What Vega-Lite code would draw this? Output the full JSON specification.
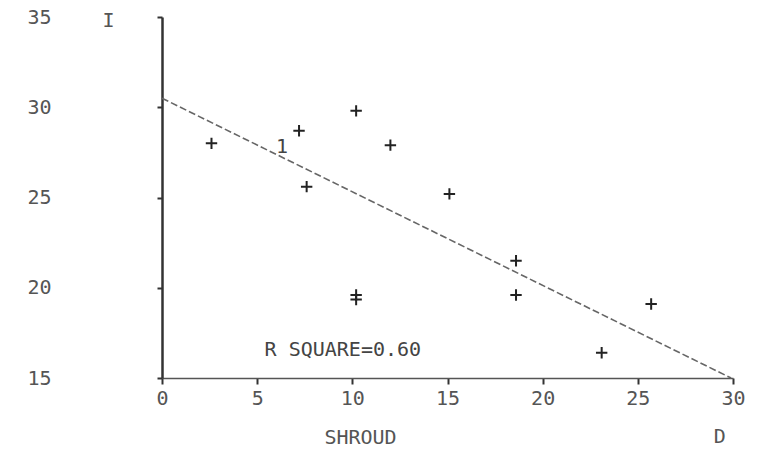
{
  "$schema": "https://vega.github.io/schema/vega-lite/v6.json",
  "width": 571,
  "height": 361,
  "autosize": "none",
  "padding": {"left": 162, "top": 17, "right": 26, "bottom": 72},
  "background": "white",
  "config": {
    "view": {"stroke": null},
    "font": "DejaVu Sans Mono",
    "axis": {"grid": false, "labelFont": "DejaVu Sans Mono", "titleFont": "DejaVu Sans Mono", "labelFontSize": 20, "titleFontSize": 20, "labelColor": "#555", "titleColor": "#555", "titleFontWeight": "normal", "domainColor": "#333", "tickColor": "#333"}
  },
  "layer": [
    {
      "data": {"values": [{"x": 0, "y": 30.5}, {"x": 29.9, "y": 15.0}]},
      "mark": {"type": "line", "color": "#666", "strokeWidth": 1.6, "strokeDash": [7, 3], "clip": false},
      "encoding": {
        "x": {"field": "x", "type": "quantitative", "scale": {"domain": [0, 30], "nice": false, "zero": false},
          "axis": {"values": [0, 5, 10, 15, 20, 25, 30], "title": "SHROUD", "titleX": 198, "titleY": 59, "titleAnchor": "middle", "titleBaseline": "middle", "tickSize": 6, "labelPadding": 4, "domainWidth": 1.6, "tickWidth": 2, "domainColor": "#555", "labelFlush": false}},
        "y": {"field": "y", "type": "quantitative", "scale": {"domain": [15, 35], "nice": false, "zero": false},
          "axis": {"values": [15, 20, 25, 30, 35], "title": "I", "titleAngle": 0, "titleX": -54, "titleY": 3, "titleAlign": "center", "titleBaseline": "middle", "tickSize": 5, "labelPadding": 118, "labelAlign": "center", "labelBaseline": "middle", "domainWidth": 2.5, "tickWidth": 2, "labelFlush": false}}
      }
    },
    {
      "data": {"values": [
        {"x": 2.6, "y": 28.0}, {"x": 7.2, "y": 28.7}, {"x": 7.6, "y": 25.6}, {"x": 10.2, "y": 29.8},
        {"x": 12.0, "y": 27.9}, {"x": 10.2, "y": 19.6}, {"x": 10.2, "y": 19.35}, {"x": 15.1, "y": 25.2},
        {"x": 18.6, "y": 21.5}, {"x": 18.6, "y": 19.6}, {"x": 25.7, "y": 19.1}, {"x": 23.1, "y": 16.4}
      ]},
      "mark": {"type": "point", "shape": "M-1,0H1M0,-1V1", "filled": false, "stroke": "#222", "strokeWidth": 2, "size": 130, "opacity": 1},
      "encoding": {
        "x": {"field": "x", "type": "quantitative"},
        "y": {"field": "y", "type": "quantitative"}
      }
    },
    {
      "data": {"values": [
        {"x": 6.3, "y": 27.8, "t": "1"},
        {"x": 9.5, "y": 16.55, "t": "R SQUARE=0.60"}
      ]},
      "mark": {"type": "text", "font": "DejaVu Sans Mono", "fontSize": 20, "color": "#444", "baseline": "middle", "align": "center"},
      "encoding": {
        "x": {"field": "x", "type": "quantitative"},
        "y": {"field": "y", "type": "quantitative"},
        "text": {"field": "t"}
      }
    },
    {
      "data": {"values": [{"x": 29.3, "y": 15, "t": "D"}]},
      "mark": {"type": "text", "font": "DejaVu Sans Mono", "fontSize": 20, "color": "#555", "baseline": "middle", "align": "center", "dy": 59, "clip": false},
      "encoding": {
        "x": {"field": "x", "type": "quantitative"},
        "y": {"field": "y", "type": "quantitative"},
        "text": {"field": "t"}
      }
    }
  ]
}
